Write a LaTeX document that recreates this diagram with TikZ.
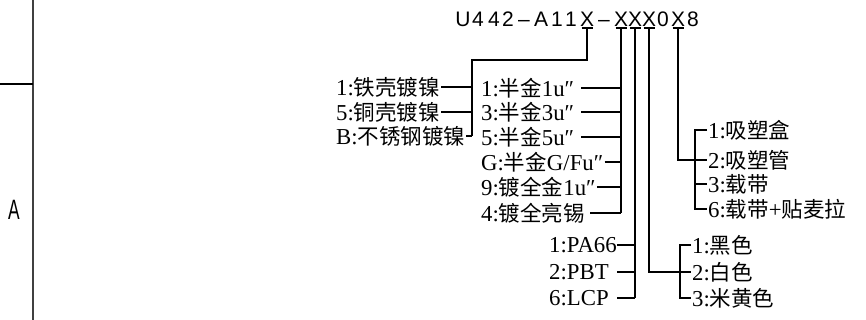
\documentclass[tikz,border=0pt]{standalone}
\usepackage{fontspec}
\setmainfont{Liberation Serif}[Scale=1.06]
\newfontfamily\cjk{Noto Sans CJK SC}
\newfontfamily\cad{Liberation Sans}
\usepackage{tikz}
\usetikzlibrary{
        arrows.meta,
        positioning
    }
\tikzset{
        opt/.style={anchor=west,inner sep=1pt,font=\fontsize{21.5}{21.5}\selectfont},
        seg/.style={anchor=base,inner sep=0pt,font=\cad\fontsize{21}{21}\selectfont},
        wire/.style={line width=1.8pt},
        pick/.style={wire,{Bar[width=11pt,line width=1.4pt]}-}
    }

\begin{document}
\begin{tikzpicture}[x=1pt,y=-1pt]
    \useasboundingbox (0,0) rectangle (866,320);
    % frame edge
    \draw[line width=1.2pt,black!75] (33,0) -- (33,320);
    \draw[line width=1.5pt] (0,84) -- (33,84);
    \node[font=\cad\fontsize{28}{28}\selectfont] (zone) at (14,210) {\scalebox{0.62}[1]{A}};
    % part number
    \foreach \c/\x [count=\i] in {U/463,4/478,4/494,2/508,\textendash/524,A/541,1/557,1/571,X/587,\textendash/604,X/621,X/635,X/649,0/663,X/678,8/693}
            \node[seg] (c\i) at (\x,27) {\c};
    % shell plating
    \node[opt] (s1) at (335,87)  {1:{\cjk 铁壳镀镍}};
    \node[opt] (s2) at (335,112) {5:{\cjk 铜壳镀镍}};
    \node[opt] (s3) at (335,136) {B:{\cjk 不锈钢镀镍}};
    \coordinate (sb) at (472,60);
    \draw[pick] (c9.south) |- (sb) -- (sb |- s3.east);
    \foreach \n in {s1,s2,s3}
            \draw[wire] (\n.east) -- (\n.east -| sb);
    % contact plating
    \node[opt] (g1) at (480,88)  {1:{\cjk 半金}1u″};
    \node[opt] (g2) at (480,112) {3:{\cjk 半金}3u″};
    \node[opt] (g3) at (480,137) {5:{\cjk 半金}5u″};
    \node[opt] (g4) at (480,162) {G:{\cjk 半金}G/Fu″};
    \node[opt] (g5) at (480,187) {9:{\cjk 镀全金}1u″};
    \node[opt] (g6) at (480,213) {4:{\cjk 镀全亮锡}};
    \draw[pick] (c11.south) -- (c11.south |- g6.east);
    \foreach \n/\gap in {g1/6,g2/6,g3/6,g4/0,g5/0,g6/4}
            \draw[wire] ([xshift=\gap pt]\n.east) -- (\n.east -| c11.south);
    % housing
    \node[opt] (p1) at (548,245) {1:PA66};
    \node[opt] (p2) at (548,272) {2:PBT};
    \node[opt] (p3) at (548,298) {6:LCP};
    \coordinate (pl) at (617,245);
    \draw[pick] (c12.south) -- (c12.south |- p3.east);
    \foreach \n in {p1,p2,p3}
            \draw[wire] (\n.east -| pl) -- (\n.east -| c12.south);
    % colour
    \node[opt] (k1) at (691,245) {1:{\cjk 黑色}};
    \node[opt] (k2) at (691,272) {2:{\cjk 白色}};
    \node[opt] (k3) at (691,298) {3:{\cjk 米黄色}};
    \coordinate (kb) at (680,272);
    \draw[pick] (c13.south) |- (k2.west);
    \draw[wire] (k1.west) -| (kb) |- (k3.west);
    % packing
    \node[opt] (m1) at (707,130) {1:{\cjk 吸塑盒}};
    \node[opt] (m2) at (707,160) {2:{\cjk 吸塑管}};
    \node[opt] (m3) at (707,184) {3:{\cjk 载带}};
    \node[opt] (m4) at (707,209) {6:{\cjk 载带}+{\cjk 贴麦拉}};
    \coordinate (mb) at (695,160);
    \draw[pick] (c15.south) |- (m2.west);
    \draw[wire] (m1.west) -| (mb) |- (m4.west);
    \draw[wire] (m3.west) -- (m3.west -| mb);
\end{tikzpicture}
\end{document}
